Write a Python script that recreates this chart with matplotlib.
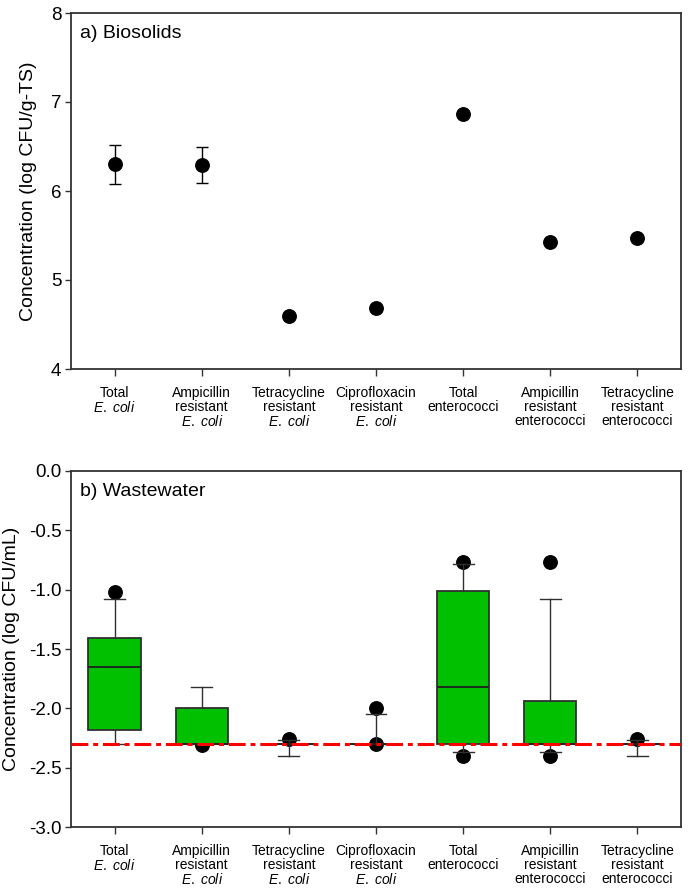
import numpy as np
import matplotlib
matplotlib.use("Agg")
import matplotlib.pyplot as plt

plt.rcParams['font.family'] = ['Liberation Sans', 'DejaVu Sans']
plt.rcParams['mathtext.fontset'] = 'custom'
plt.rcParams['mathtext.rm'] = 'Liberation Sans'
plt.rcParams['mathtext.it'] = 'Liberation Sans:italic'

# ---- data ----
categories = [
    "Total\n$\\mathit{E.\\ coli}$",
    "Ampicillin\nresistant\n$\\mathit{E.\\ coli}$",
    "Tetracycline\nresistant\n$\\mathit{E.\\ coli}$",
    "Ciprofloxacin\nresistant\n$\\mathit{E.\\ coli}$",
    "Total\nenterococci",
    "Ampicillin\nresistant\nenterococci",
    "Tetracycline\nresistant\nenterococci",
]

# a) Biosolids: means and error
bio_mean = [6.30, 6.29, 4.59, 4.68, 6.86, 5.43, 5.47]
bio_err = [0.22, 0.20, np.nan, np.nan, np.nan, np.nan, np.nan]

# b) Wastewater box statistics
ww_q1 = [-2.18, -2.30, -2.30, -2.30, -2.30, -2.30, -2.30]
ww_med = [-1.65, -2.30, -2.30, -2.30, -1.82, -2.30, -2.30]
ww_q3 = [-1.41, -2.00, -2.30, -2.30, -1.01, -1.94, -2.30]
ww_whislo = [-2.30, -2.30, -2.40, -2.30, -2.37, -2.37, -2.40]
ww_whishi = [-1.08, -1.82, -2.27, -2.05, -0.78, -1.08, -2.27]
ww_fliers = [[-1.02], [-2.31], [-2.26], [-2.00, -2.30], [-0.77, -2.40], [-0.77, -2.40], [-2.26]]
detection_limit = -2.30

top_yticks = [4, 5, 6, 7, 8]
bot_yticks = [0.0, -0.5, -1.0, -1.5, -2.0, -2.5, -3.0]

# ---- figure ----
fig = plt.figure(figsize=(6.93, 8.94), dpi=100)
W, H = 693, 894
def ax_rect(l, r, t, b):
    return [l / W, 1 - b / H, (r - l) / W, (b - t) / H]

ax1 = fig.add_axes(ax_rect(71, 681, 13, 369))
ax2 = fig.add_axes(ax_rect(71, 681, 471, 827))

x = np.arange(1, len(categories) + 1)
spine_col = '#333333'

for ax in (ax1, ax2):
    for s in ax.spines.values():
        s.set_color(spine_col)
        s.set_linewidth(1.3)
    ax.tick_params(direction='out', length=4, width=1, color=spine_col,
                   labelsize=13.5, pad=3)
    ax.tick_params(axis='x', labelsize=10, length=5, pad=7)
    ax.set_xlim(0.5, 7.5)
    ax.set_xticks(x)
    ax.set_xticklabels(categories, linespacing=1.0)

# a) Biosolids
ax1.errorbar(x, bio_mean, yerr=bio_err, fmt='o', color='black', markersize=9.7,
             ecolor='black', elinewidth=1, capsize=4.3, capthick=1)
ax1.set_ylim(4, 8)
ax1.set_yticks(top_yticks)
ax1.set_ylabel("Concentration (log CFU/g-TS)", fontsize=14, labelpad=10)
ax1.text(0.015, 0.965, "a) Biosolids", transform=ax1.transAxes, fontsize=14,
         va='top', ha='left')

# b) Wastewater
stats = []
for i in range(len(categories)):
    stats.append(dict(med=ww_med[i], q1=ww_q1[i], q3=ww_q3[i],
                      whislo=ww_whislo[i], whishi=ww_whishi[i],
                      fliers=ww_fliers[i]))
ax2.bxp(stats, positions=x, widths=0.6, patch_artist=True, showfliers=True,
        boxprops=dict(facecolor='#00c000', edgecolor='#303030', linewidth=1.3, zorder=3),
        medianprops=dict(color='#202020', linewidth=1.3, zorder=4),
        whiskerprops=dict(color='#303030', linewidth=1, zorder=3),
        capprops=dict(color='#303030', linewidth=1, zorder=3),
        capwidths=0.24,
        flierprops=dict(marker='o', markerfacecolor='black', markeredgecolor='black',
                        markersize=9.7, zorder=2))
ax2.axhline(detection_limit, color='#ff0000', linewidth=2.2,
            dashes=(5.5, 1.6, 1.6, 1.6), zorder=5)
ax2.set_ylim(-3.0, 0.0)
ax2.set_yticks(bot_yticks)
ax2.set_yticklabels([f"{v:.1f}" for v in bot_yticks])
ax2.set_xlim(0.5, 7.5)
ax2.set_xticks(x)
ax2.set_xticklabels(categories, linespacing=1.0)
ax2.set_ylabel("Concentration (log CFU/mL)", fontsize=14, labelpad=6)
ax2.text(0.015, 0.965, "b) Wastewater", transform=ax2.transAxes, fontsize=14,
         va='top', ha='left')

fig.savefig("out.png", dpi=100)
